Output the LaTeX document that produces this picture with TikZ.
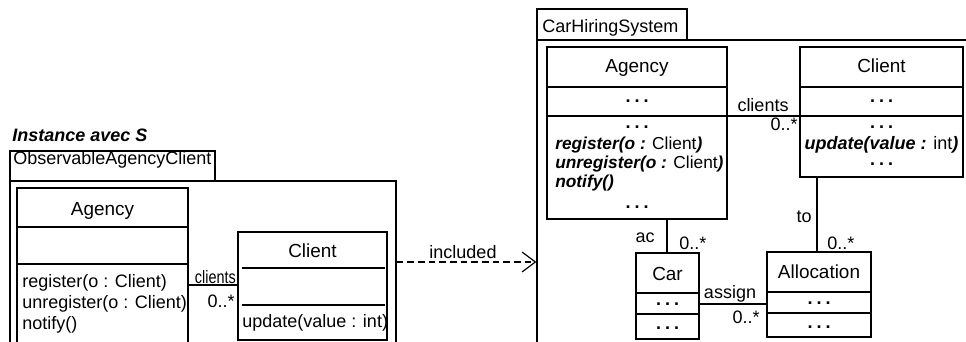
\documentclass[tikz,border=0pt]{standalone}
\usepackage{fontspec}
\setmainfont{Liberation Sans}
\usetikzlibrary{arrows.meta}
\usetikzlibrary{fit}
\newcommand{\elide}{\textbf{.\hspace{3pt}.\hspace{3pt}.}}

\begin{document}
\begin{tikzpicture}[
  x=0.75pt, y=-0.75pt,
  every node/.style={inner sep=0pt, font=\fontsize{13.5}{16}\selectfont},
  box/.style={draw, line width=0.9pt},
  line/.style={line width=0.9pt},
  title/.style={anchor=base, font=\fontsize{14.2}{16}\selectfont},
  opline/.style={anchor=base west, font=\fontsize{13}{16}\selectfont},
  ital/.style={font=\fontsize{13.5}{16}\selectfont\bfseries\itshape}]
\useasboundingbox (0,0) rectangle (966,342);
\clip (0,0) rectangle (966,342);

% instance package
\node[anchor=base west, ital] (inst) at (12,142) {Instance avec S};
\node[box, fit={(10,151) (215,181)}] (itab) {};
\node[anchor=base west] (itabtxt) at (13,165) {ObservableAgencyClient};
\node[box, fit={(10,181) (396,360)}] (ipkg) {};

\node[box, fit={(17,188) (188,360)}] (lag) {};
\node[title] (lagname) at (102.5,215) {Agency};
\draw[line] (17,227) -- (188,227);
\draw[line] (17,264) -- (188,264);
\node[anchor=base west] (lagop1) at (22,287) {register(o : Client)};
\node[anchor=base west] (lagop2) at (22,308) {unregister(o : Client)};
\node[anchor=base west] (lagop3) at (22,329) {notify()};

\node[box, fit={(238,232) (387,340)}] (lcl) {};
\node[title] (lclname) at (312.5,257) {Client};
\draw[line] (242,268) -- (385,268);
\draw[line] (242,305) -- (385,305);
\node[anchor=base west] (lclop) at (242,327) {update(value : int)};

\draw[line] (lag.east |- 0,285) -- (lcl.west |- 0,285);
\node[anchor=base east] (lrole) at (236,283) {\scalebox{0.8}[1]{clients}};
\node[anchor=base east] (lmult) at (235,307) {0..*};

% system package
\node[box, fit={(537,9) (687,40)}] (ctab) {};
\node[anchor=base west] (ctabtxt) at (542,33) {CarHiringSystem};
\node[box, fit={(537,40) (990,360)}] (cpkg) {};

\draw[line, dash pattern=on 5pt off 3pt, -{Straight Barb[length=10pt, width=15pt, line width=0.9pt]}]
  (ipkg.east |- 0,262) -- (cpkg.west |- 0,262);
\node[anchor=base] (incl) at (463,258) {included};

\node[box, fit={(547,47) (727,219)}] (cag) {};
\node[title] (cagname) at (637,73) {Agency};
\draw[line] (547,87) -- (727,87);
\draw[line] (547,116) -- (727,116);
\node[anchor=base] (cagat) at (637,103) {\elide};
\node[anchor=base] (cagop0) at (637,128) {\elide};
\node[opline] (cagop1) at (555,150) {\textbf{\textit{register(o :}} Client\textbf{\textit{)}}};
\node[opline] (cagop2) at (555,168) {\textbf{\textit{unregister(o :}} Client\textbf{\textit{)}}};
\node[opline] (cagop3) at (555,187) {\textbf{\textit{notify()}}};
\node[anchor=base] (cagop4) at (637,208) {\elide};

\node[box, fit={(800,47) (963,177)}] (ccl) {};
\node[title] (cclname) at (881.5,73) {Client};
\draw[line] (800,87) -- (963,87);
\draw[line] (800,116) -- (963,116);
\node[anchor=base] (cclat) at (881.5,103) {\elide};
\node[anchor=base] (cclop0) at (881.5,128) {\elide};
\node[anchor=base] (cclop1) at (881.5,150) {\textbf{\textit{update(value :}} int\textbf{\textit{)}}};
\node[anchor=base] (cclop2) at (881.5,166) {\elide};

\node[box, fit={(636,253) (699,339)}] (car) {};
\node[title] (carname) at (667.5,280) {Car};
\draw[line] (636,293) -- (699,293);
\draw[line] (636,314) -- (699,314);
\node[anchor=base] (carat) at (667.5,305) {\elide};
\node[anchor=base] (carop) at (667.5,329) {\elide};

\node[box, fit={(767,252) (871,337)}] (alloc) {};
\node[title] (allocname) at (819,278) {Allocation};
\draw[line] (767,292) -- (871,292);
\draw[line] (767,313) -- (871,313);
\node[anchor=base] (allocat) at (819,304) {\elide};
\node[anchor=base] (allocop) at (819,328) {\elide};

% associations
\draw[line] (cag.east |- 0,116) -- (ccl.west |- 0,116);
\node[anchor=base] (crole) at (763,112) {clients};
\node[anchor=base east] (cmult) at (798,131) {0..*};

\draw[line] (ccl.south -| 817,0) -- (alloc.north -| 817,0);
\node[anchor=base east] (torole) at (812,222) {to};
\node[anchor=base west] (tomult) at (827,249) {0..*};

\draw[line] (cag.south -| 667,0) -- (car.north -| 667,0);
\node[anchor=base east] (acrole) at (655,242) {ac};
\node[anchor=base west] (acmult) at (679,249) {0..*};

\draw[line] (car.east |- 0,304) -- (alloc.west |- 0,304);
\node[anchor=base] (asrole) at (730,298) {assign};
\node[anchor=base east] (asmult) at (760,323) {0..*};
\end{tikzpicture}
\end{document}
